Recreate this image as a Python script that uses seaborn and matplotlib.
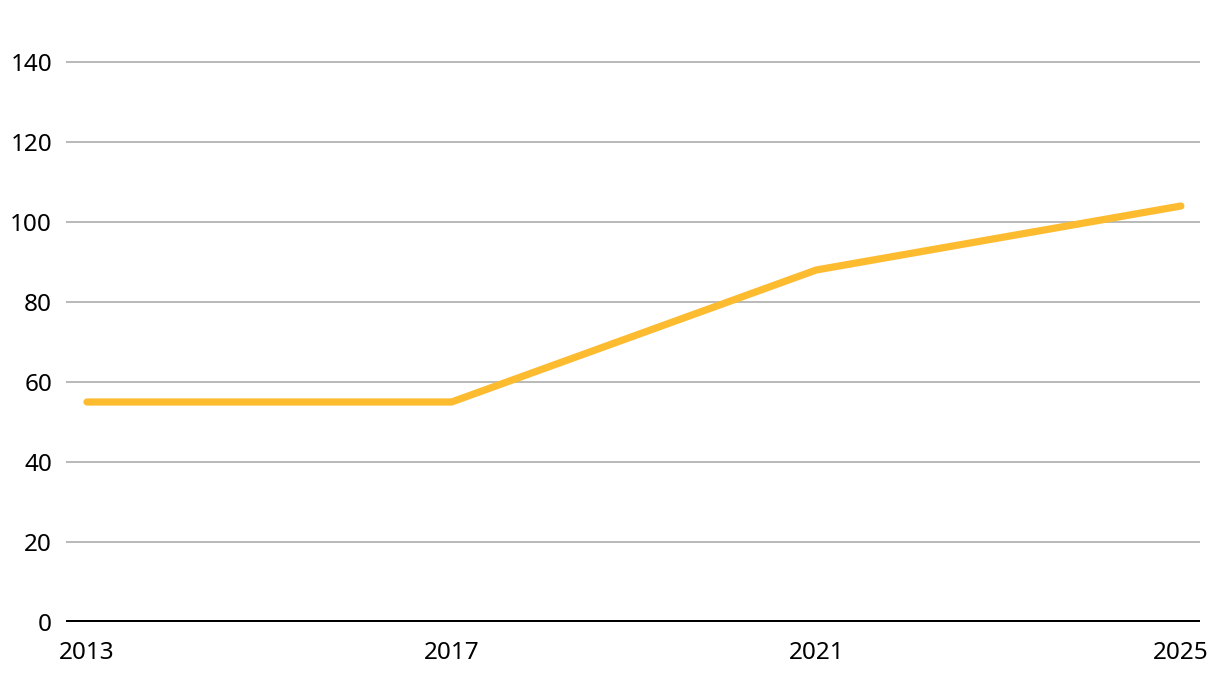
import numpy as np
import pandas as pd
import seaborn as sns
import matplotlib.pyplot as plt

# data
years = [2013, 2017, 2021, 2025]
values = [55, 55, 88, 104]
y_ticks = [0, 20, 40, 60, 80, 100, 120, 140]

df = pd.DataFrame({'year': years, 'value': values})

sns.set_style('white')
plt.rcParams['font.family'] = ['Noto Sans', 'DejaVu Sans']

fig = plt.figure(figsize=(12.2, 6.82), dpi=100)
ax = fig.add_axes([66 / 1220, 60 / 682, (1200 - 66) / 1220, 600 / 682])

sns.lineplot(data=df, x='year', y='value', ax=ax, color='#FDBB30',
             linewidth=5.2, solid_capstyle='round', zorder=3)

ax.set_xlim(2012.77, 2025.21)
ax.set_ylim(0, 150)
ax.set_xticks(years)
ax.set_yticks(y_ticks)
ax.tick_params(axis='both', length=0, labelsize=17.5, colors='black')
ax.tick_params(axis='y', pad=10)
ax.tick_params(axis='x', pad=14)

for t in y_ticks[1:]:
    ax.axhline(t, color='#B3B3B3', linewidth=1.3, zorder=1)
ax.axhline(0, color='black', linewidth=3.6, zorder=4)

for s in ax.spines.values():
    s.set_visible(False)
ax.set_xlabel('')
ax.set_ylabel('')

fig.savefig('out.png', dpi=100)
